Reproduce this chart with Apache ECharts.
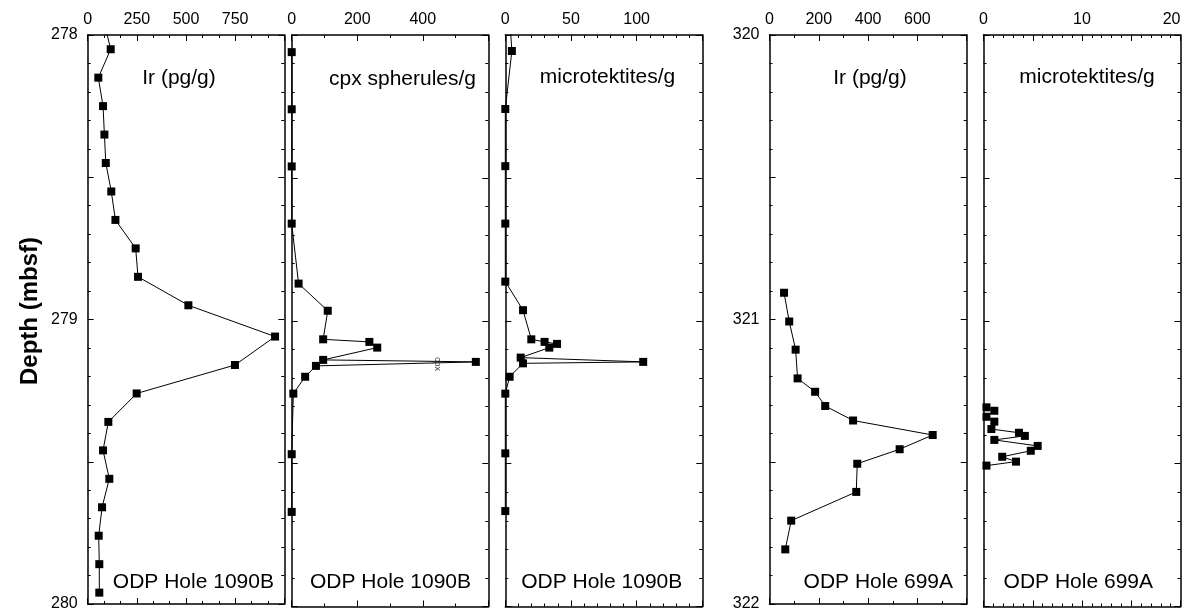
<!DOCTYPE html>
<html>
<head>
    <meta charset="utf-8">
    <title>Ir, spherules and microtektites</title>
    <script src="https://cdn.jsdelivr.net/npm/echarts@6/dist/echarts.min.js"></script>
    <style>
        html, body { margin: 0; padding: 0; background: #fff; }
        #main { width: 1185px; height: 612px; }
    </style>
</head>
<body>
    <div id="main"></div>
    <script type="text/javascript">
    // ODP Hole 1090B - Ir (pg/g)
    var irDepth1090 = [277.94, 278.05, 278.15, 278.25, 278.35, 278.45, 278.55, 278.65, 278.75, 278.85, 278.95,
        279.06, 279.16, 279.26, 279.36, 279.46, 279.56, 279.66, 279.76, 279.86, 279.96];
    var irValue1090 = [78, 117, 54, 78, 85, 92, 120, 141, 244, 256, 512,
        953, 749, 249, 105, 78, 110, 73, 56, 59, 59];

    // ODP Hole 1090B - cpx spherules/g
    var cpxDepth1090 = [278.06, 278.26, 278.46, 278.66, 278.87, 278.965, 279.065, 279.074, 279.094,
        279.137, 279.144, 279.158, 279.196, 279.255, 279.467, 279.669];
    var cpxValue1090 = [0, 0, 0, 0, 21, 110, 96, 237, 261, 96, 562, 74, 41, 5, 0, 0];

    // ODP Hole 1090B - microtektites/g
    var mtDepth1090 = [277.95, 278.056, 278.259, 278.459, 278.66, 278.863, 278.963, 279.065, 279.074,
        279.081, 279.094, 279.129, 279.144, 279.149, 279.196, 279.255, 279.464, 279.666];
    var mtValue1090 = [3.5, 5, 0, 0, 0, 0, 13.5, 19.8, 29.9, 39.4, 33.5, 11.7, 105, 13.5, 3.3, 0, 0, 0];

    // ODP Hole 699A - Ir (pg/g)
    var irDepth699 = [320.906, 321.007, 321.106, 321.207, 321.254, 321.304, 321.355, 321.406, 321.456,
        321.507, 321.606, 321.707, 321.808];
    var irValue699 = [59, 80, 106, 114, 185, 226, 339, 662, 528, 356, 352, 88, 64];

    // ODP Hole 699A - microtektites/g
    var mtDepth699 = [321.303, 321.315, 321.336, 321.353, 321.379, 321.392, 321.403, 321.417, 321.438,
        321.455, 321.476, 321.493, 321.507];
    var mtValue699 = [0.3, 1.1, 0.3, 1.1, 0.8, 3.6, 4.2, 1.1, 5.5, 4.8, 1.9, 3.3, 0.3];

    // tick labels
    var xLabels1 = [0, 250, 500, 750];
    var xLabels2 = [0, 200, 400];
    var xLabels3 = [0, 50, 100];
    var xLabels4 = [0, 200, 400, 600];
    var xLabels5 = [0, 10, 20];
    var depthLabels1090 = [278, 279, 280];
    var depthLabels699 = [320, 321, 322];

    var FONT = 'Arial, "Liberation Sans", Helvetica, sans-serif';

    function zip(xs, ys) {
        var out = [];
        for (var i = 0; i < xs.length; i++) out.push([xs[i], ys[i]]);
        return out;
    }

    function labelFmt(list) {
        return function (v) {
            for (var i = 0; i < list.length; i++) {
                if (Math.abs(list[i] - v) < 1e-6) return String(list[i]);
            }
            return '';
        };
    }

    var grids = [], xAxes = [], yAxes = [], series = [];

    function addPanel(p) {
        var g = grids.length;
        grids.push({ left: p.left, width: p.width, top: 35, height: 571.5, show: false });
        var lineSt = { show: true, onZero: false, lineStyle: { color: '#000', width: 1.5 } };
        var tick = { show: true, inside: true, length: 6, lineStyle: { color: '#000', width: 1 } };
        ['top', 'bottom'].forEach(function (pos) {
            xAxes.push({
                type: 'value', gridIndex: g, position: pos,
                min: p.xMin, max: p.xMax, interval: p.xInt,
                axisLine: lineSt, axisTick: tick,
                minorTick: { show: true, splitNumber: p.xMinor, length: 3, lineStyle: { color: '#000', width: 1 } },
                splitLine: { show: false },
                axisLabel: {
                    show: pos === 'top', margin: 7, color: '#000', fontSize: 16, fontFamily: FONT,
                    formatter: labelFmt(p.xLabels), showMaxLabel: true, showMinLabel: true,
                    alignMaxLabel: p.alignMax || 'center'
                }
            });
        });
        ['left', 'right'].forEach(function (pos) {
            yAxes.push({
                type: 'value', gridIndex: g, position: pos, inverse: true,
                min: p.yMin, max: p.yMax, interval: 0.5,
                axisLine: lineSt, axisTick: tick,
                minorTick: { show: true, splitNumber: 5, length: 3, lineStyle: { color: '#000', width: 1 } },
                splitLine: { show: false },
                axisLabel: {
                    show: pos === 'left' && p.showY, margin: 10, color: '#000', fontSize: 16, fontFamily: FONT,
                    padding: [6, 0, 0, 0],
                    formatter: labelFmt(p.yLabels)
                }
            });
        });
        series.push({
            type: 'line', xAxisIndex: g * 2, yAxisIndex: g * 2,
            data: zip(p.x, p.y), clip: true,
            symbol: 'rect', symbolSize: 8,
            itemStyle: { color: '#000' },
            lineStyle: { color: '#000', width: 1 },
            animation: false
        });
    }

    addPanel({ left: 87.7, width: 196.6, xMin: 0, xMax: 1000, xInt: 250, xMinor: 3, xLabels: xLabels1,
        yMin: 278, yMax: 280, yLabels: depthLabels1090, showY: true, x: irValue1090, y: irDepth1090 });
    addPanel({ left: 291.7, width: 196.6, xMin: 0, xMax: 600, xInt: 200, xMinor: 2, xLabels: xLabels2,
        yMin: 278, yMax: 280, yLabels: depthLabels1090, showY: false, x: cpxValue1090, y: cpxDepth1090 });
    addPanel({ left: 505.3, width: 197, xMin: 0, xMax: 150, xInt: 50, xMinor: 5, xLabels: xLabels3,
        yMin: 278, yMax: 280, yLabels: depthLabels1090, showY: false, x: mtValue1090, y: mtDepth1090 });
    addPanel({ left: 769.5, width: 197.2, xMin: 0, xMax: 800, xInt: 200, xMinor: 2, xLabels: xLabels4,
        yMin: 320, yMax: 322, yLabels: depthLabels699, showY: true, x: irValue699, y: irDepth699 });
    addPanel({ left: 983.5, width: 197, xMin: 0, xMax: 20, xInt: 5, xMinor: 5, xLabels: xLabels5, alignMax: 'right',
        yMin: 320, yMax: 322, yLabels: depthLabels699, showY: false, x: mtValue699, y: mtDepth699 });

    function txt(text, x, y, size, extra) {
        var st = { text: text, fill: '#000', fontSize: size, fontFamily: FONT, align: 'center', verticalAlign: 'middle' };
        for (var k in (extra || {})) st[k] = extra[k];
        return { type: 'text', x: x, y: y, z: 100, style: st };
    }

    var graphics = [
        txt('Ir (pg/g)', 179, 78, 21),
        txt('cpx spherules/g', 402.5, 79, 21),
        txt('microtektites/g', 607.5, 77, 21),
        txt('Ir (pg/g)', 870, 78, 21),
        txt('microtektites/g', 1087, 77, 21),
        txt('ODP Hole 1090B', 193.4, 582, 21),
        txt('ODP Hole 1090B', 390.5, 582, 21),
        txt('ODP Hole 1090B', 601.7, 582, 21),
        txt('ODP Hole 699A', 878.3, 582, 21),
        txt('ODP Hole 699A', 1078.3, 582, 21)
    ];
    var yTitle = txt('Depth (mbsf)', 30, 311, 24, { fontWeight: 'bold' });
    yTitle.rotation = Math.PI / 2;
    graphics.push(yTitle);
    var cpxMark = txt('cpx', 437.7, 364, 9, { fill: '#444' });
    cpxMark.rotation = -Math.PI / 2;
    graphics.push(cpxMark);

    var myChart = echarts.init(document.getElementById('main'));
    var option = {
        backgroundColor: '#fff',
        animation: false,
        grid: grids,
        xAxis: xAxes,
        yAxis: yAxes,
        series: series,
        graphic: graphics
    };
    myChart.setOption(option);
    </script>
</body>
</html>
